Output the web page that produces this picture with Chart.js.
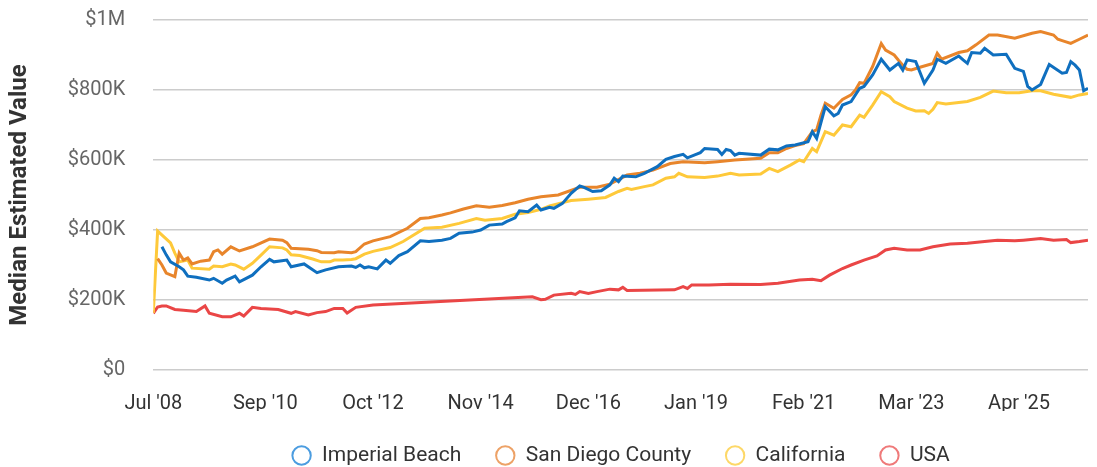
<!DOCTYPE html>
<html>
<head>
<meta charset="utf-8">
<script src="https://cdn.jsdelivr.net/npm/chart.js@4"></script>
<style>
  html, body { margin: 0; padding: 0; background: #fff; }
  #wrap { width: 1097px; height: 467px; }
</style>
</head>
<body>
<div id="wrap"><canvas id="homechart"></canvas></div>
<script>
// months counted from Jul 2008, values in $K
const tickMonths = [0, 26, 51, 76, 101, 126, 151, 176, 201];
const tickLabels = ["Jul '08", "Sep '10", "Oct '12", "Nov '14", "Dec '16", "Jan '19", "Feb '21", "Mar '23", "Apr '25"];

const ibMonths = [2, 3, 4, 6, 7, 8, 10, 13, 14, 16, 17, 19, 20, 23, 25, 27, 28, 31, 32, 35, 38, 40, 43, 46, 47, 48, 49, 50, 52, 54, 55, 57, 59, 62, 64, 67, 69, 71, 74, 76, 78, 81, 82, 84, 85, 87, 89, 90, 92, 93, 95, 97, 99, 100, 102, 104, 106, 107, 108, 109, 112, 114, 117, 119, 121, 123, 124, 126, 127, 128, 131, 132, 133, 134, 135, 136, 141, 143, 145, 147, 149, 152, 153, 154, 156, 158, 159, 160, 162, 164, 165, 167, 169, 171, 173, 174, 175, 177, 179, 181, 182, 184, 187, 188, 189, 190, 192, 193, 195, 198, 200, 202, 203, 204, 206, 208, 211, 212, 213, 214, 215, 216, 217];
const ibValues = [352, 329, 309, 295, 286, 268, 265, 257, 262, 248, 257, 268, 252, 271, 295, 316, 309, 314, 295, 303, 278, 286, 295, 297, 293, 300, 292, 295, 289, 314, 305, 327, 338, 369, 367, 371, 376, 391, 394, 400, 414, 417, 424, 435, 455, 452, 471, 457, 465, 462, 476, 505, 526, 522, 510, 512, 529, 548, 538, 554, 552, 562, 581, 602, 610, 616, 606, 616, 621, 633, 630, 616, 630, 627, 614, 619, 614, 631, 629, 640, 643, 652, 681, 662, 752, 726, 733, 757, 767, 805, 810, 843, 888, 857, 876, 857, 886, 881, 819, 857, 888, 876, 897, 886, 876, 907, 905, 919, 900, 902, 862, 853, 810, 800, 816, 873, 848, 850, 881, 871, 857, 798, 805];

const sdMonths = [1, 2, 3, 5, 6, 7, 8, 9, 11, 13, 14, 15, 16, 18, 20, 23, 27, 30, 31, 32, 36, 38, 39, 42, 43, 46, 47, 49, 51, 55, 59, 62, 64, 67, 69, 72, 75, 78, 81, 84, 87, 90, 94, 99, 103, 106, 110, 113, 116, 120, 123, 128, 131, 135, 141, 143, 145, 147, 149, 151, 153, 154, 155, 156, 158, 160, 162, 163, 164, 165, 167, 169, 170, 172, 173, 174, 175, 176, 178, 181, 182, 183, 187, 189, 191, 194, 196, 200, 204, 206, 209, 210, 211, 213, 215, 217];
const sdValues = [318, 300, 277, 267, 334, 314, 320, 303, 311, 314, 338, 343, 331, 352, 340, 352, 374, 371, 364, 348, 345, 341, 336, 335, 338, 335, 338, 360, 369, 381, 405, 433, 435, 443, 449, 460, 469, 465, 470, 478, 488, 495, 500, 522, 522, 531, 557, 562, 571, 590, 595, 592, 595, 600, 605, 621, 621, 633, 641, 647, 681, 686, 728, 762, 748, 773, 786, 800, 821, 819, 867, 933, 914, 900, 885, 871, 859, 857, 865, 876, 905, 888, 907, 912, 929, 957, 957, 948, 962, 967, 957, 945, 941, 933, 945, 957];

const caMonths = [0, 1, 4, 5, 6, 8, 9, 13, 14, 16, 18, 19, 21, 23, 25, 27, 30, 31, 32, 34, 37, 39, 41, 42, 44, 46, 47, 49, 51, 55, 58, 63, 67, 71, 75, 77, 81, 84, 87, 90, 92, 97, 101, 105, 108, 110, 111, 114, 116, 119, 121, 122, 124, 128, 131, 134, 136, 141, 143, 145, 148, 150, 151, 153, 154, 156, 158, 160, 162, 164, 165, 167, 169, 171, 172, 175, 177, 179, 180, 181, 182, 184, 189, 192, 195, 198, 201, 204, 206, 209, 213, 215, 217];
const caValues = [163, 397, 363, 334, 309, 314, 291, 288, 297, 295, 303, 300, 288, 305, 328, 352, 349, 343, 329, 327, 317, 309, 309, 314, 314, 316, 318, 331, 339, 350, 367, 405, 408, 419, 433, 428, 433, 445, 450, 459, 469, 484, 488, 493, 510, 519, 516, 524, 529, 548, 552, 562, 552, 550, 554, 562, 557, 560, 576, 567, 586, 600, 595, 633, 624, 681, 671, 700, 695, 728, 722, 757, 795, 781, 767, 748, 740, 741, 733, 745, 764, 760, 767, 779, 797, 792, 792, 798, 798, 788, 779, 786, 790];

const usMonths = [0, 1, 2, 3, 5, 7, 10, 12, 13, 16, 18, 20, 21, 23, 25, 29, 32, 33, 36, 38, 40, 42, 44, 45, 47, 51, 88, 90, 91, 93, 97, 98, 99, 101, 103, 106, 108, 109, 110, 121, 123, 124, 125, 129, 134, 141, 145, 150, 153, 155, 157, 160, 162, 165, 168, 170, 172, 175, 178, 181, 185, 189, 193, 196, 200, 202, 206, 209, 212, 213, 215, 217];
const usValues = [162, 180, 183, 183, 173, 171, 167, 183, 162, 152, 152, 162, 154, 179, 176, 173, 162, 167, 157, 164, 167, 176, 176, 163, 179, 186, 209, 201, 202, 214, 219, 216, 224, 219, 224, 231, 229, 236, 227, 229, 238, 233, 243, 243, 245, 244, 248, 257, 259, 255, 271, 290, 300, 314, 326, 343, 348, 343, 343, 352, 360, 362, 367, 371, 369, 371, 376, 371, 373, 364, 367, 371];

const seriesNames = ['Imperial Beach', 'San Diego County', 'California', 'USA'];
const lineColors = ['#0f6fbf', '#e8852b', '#fec93a', '#ea4646'];
const legendColors = ['#4c9de0', '#eda267', '#fdd868', '#ef7a7a'];

function toPoints(months, values) {
    return months.map((m, i) => ({ x: m, y: values[i] * 1000 }));
}

const allSeries = [
    toPoints(ibMonths, ibValues),
    toPoints(sdMonths, sdValues),
    toPoints(caMonths, caValues),
    toPoints(usMonths, usValues)
];

Chart.defaults.font.family = 'Roboto, "Noto Sans", sans-serif';

const ctx = document.getElementById('homechart').getContext('2d');
const homeChart = new Chart(ctx, {
    type: 'line',
    data: {
        datasets: allSeries.map((pts, i) => ({
            label: seriesNames[i],
            data: pts,
            borderColor: lineColors[i],
            backgroundColor: lineColors[i],
            borderWidth: 3,
            pointRadius: 0,
            tension: 0,
            fill: false
        }))
    },
    options: {
        responsive: true,
        maintainAspectRatio: false,
        animation: false,
        layout: { padding: { top: 20, right: 9, left: 6, bottom: 0 } },
        plugins: {
            tooltip: { enabled: false },
            legend: {
                position: 'bottom',
                fullSize: false,
                maxHeight: 56,
                labels: {
                    usePointStyle: true,
                    pointStyle: 'circle',
                    boxWidth: 20,
                    boxHeight: 13,
                    padding: 34,
                    color: '#333',
                    font: { size: 21 },
                    generateLabels: function (chart) {
                        const items = Chart.defaults.plugins.legend.labels.generateLabels(chart);
                        items.forEach((it, i) => {
                            it.strokeStyle = legendColors[i];
                            it.fillStyle = 'rgba(255,255,255,0)';
                            it.lineWidth = 2;
                        });
                        return items;
                    }
                }
            }
        },
        scales: {
            x: {
                type: 'linear',
                min: 0,
                max: 217,
                grid: { display: false },
                border: { display: false },
                afterBuildTicks: function (axis) {
                    axis.ticks = tickMonths.map(v => ({ value: v }));
                },
                afterFit: function (axis) {
                    axis.height = 41;
                },
                ticks: {
                    autoSkip: false,
                    maxRotation: 0,
                    padding: 14,
                    color: '#333',
                    font: { size: 20 },
                    callback: function (value) {
                        const k = tickMonths.indexOf(value);
                        return k >= 0 ? tickLabels[k] : '';
                    }
                }
            },
            y: {
                min: 0,
                max: 1000000,
                border: { display: false },
                grid: {
                    color: '#cccccc',
                    lineWidth: 1.5,
                    drawTicks: true,
                    tickLength: 28,
                    tickColor: 'rgba(0,0,0,0)'
                },
                ticks: {
                    stepSize: 200000,
                    padding: 0,
                    color: '#666',
                    font: { size: 20 },
                    callback: function (v) {
                        if (v === 0) return '$0';
                        if (v >= 1000000) return '$' + (v / 1000000) + 'M';
                        return '$' + (v / 1000) + 'K';
                    }
                },
                title: {
                    display: true,
                    text: 'Median Estimated Value',
                    color: '#333',
                    font: { size: 24, weight: 'bold' },
                    padding: { top: 0, bottom: 33 }
                }
            }
        }
    }
});
</script>
</body>
</html>
